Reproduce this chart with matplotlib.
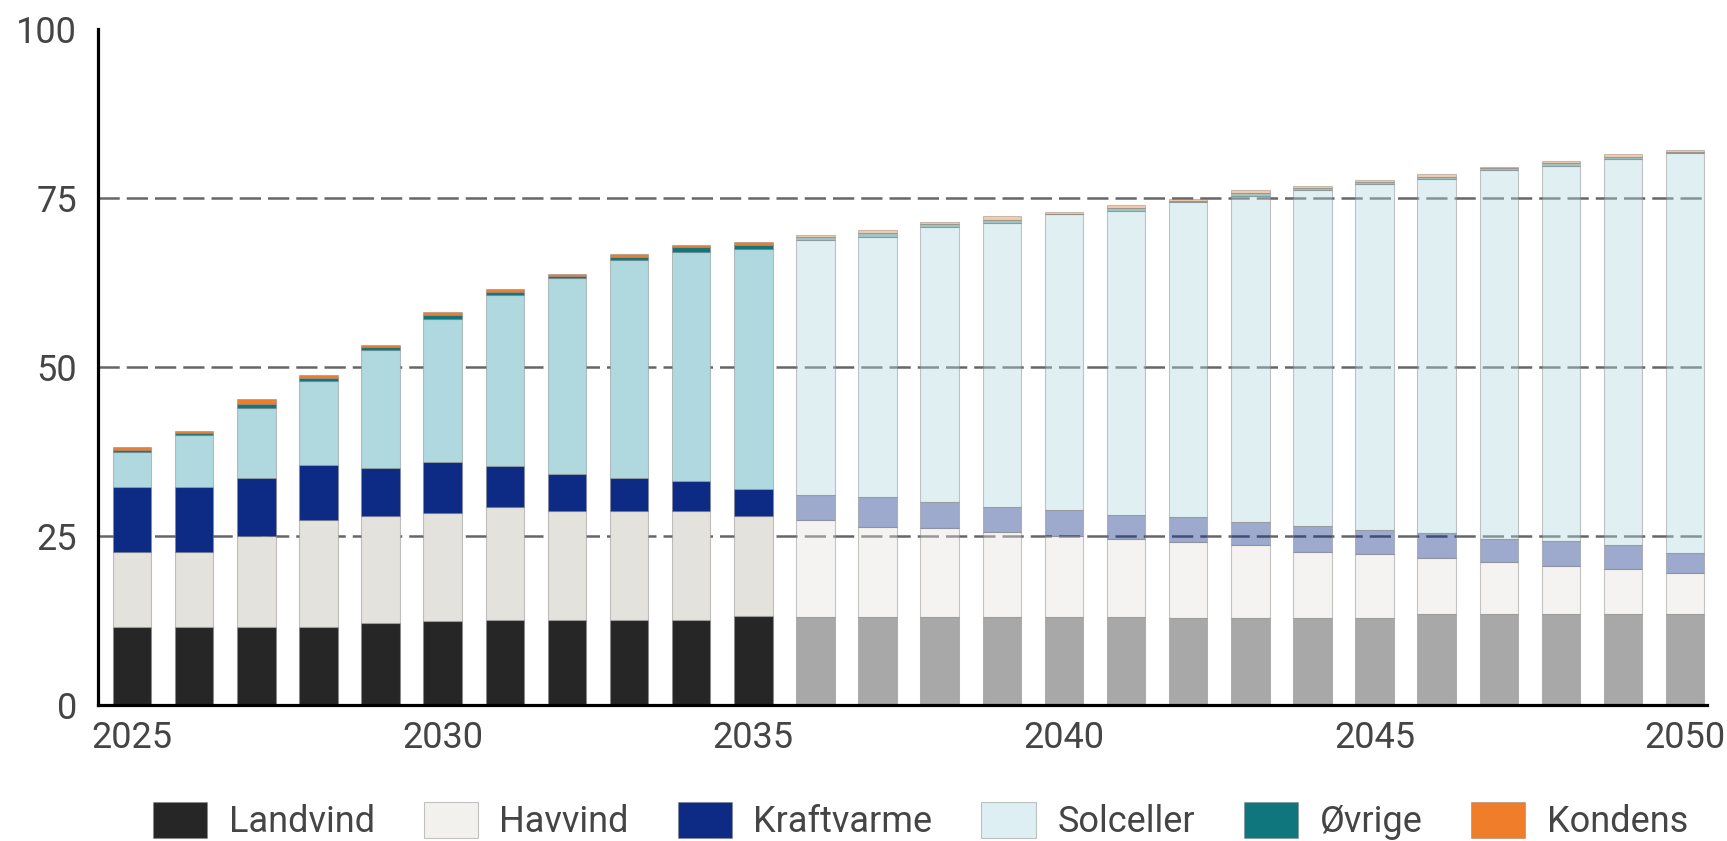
import matplotlib
matplotlib.use("Agg")
import matplotlib.pyplot as plt
from matplotlib.patches import Patch
from matplotlib.colors import to_rgba
import numpy as np

plt.rcParams['font.family'] = ['Roboto', 'DejaVu Sans']

# Elproduktion fordelt på teknologi, 2025-2050
years = list(range(2025, 2051))
landvind   = [11.6, 11.6, 11.6, 11.6, 12.1, 12.5, 12.6, 12.6, 12.6, 12.6, 13.1, 13.0, 13.0,
              13.0, 13.0, 13.0, 13.0, 12.9, 12.9, 12.9, 12.9, 13.5, 13.5, 13.5, 13.5, 13.5]
havvind    = [11.0, 11.0, 13.4, 15.7, 15.9, 15.9, 16.7, 16.1, 16.1, 16.1, 14.9, 14.3, 13.3,
              13.2, 12.6, 12.0, 11.5, 11.2, 10.7, 9.7, 9.4, 8.2, 7.6, 7.1, 6.6, 6.0]
kraftvarme = [9.7, 9.7, 8.6, 8.2, 7.1, 7.6, 6.1, 5.4, 4.9, 4.5, 3.9, 3.8, 4.4,
              3.9, 3.7, 3.8, 3.6, 3.7, 3.4, 3.9, 3.6, 3.7, 3.4, 3.6, 3.6, 3.0]
solceller  = [5.1, 7.6, 10.4, 12.4, 17.4, 21.1, 25.3, 29.0, 32.3, 33.8, 35.5, 37.7, 38.6,
              40.6, 42.0, 43.8, 45.0, 46.6, 48.3, 49.7, 51.1, 52.4, 54.7, 55.6, 57.0, 59.2]
ovrige     = [0.3, 0.3, 0.5, 0.5, 0.4, 0.6, 0.4, 0.3, 0.4, 0.7, 0.6, 0.4, 0.5,
              0.4, 0.5, 0.1, 0.4, 0.2, 0.4, 0.3, 0.3, 0.3, 0.2, 0.4, 0.4, 0.1]
kondens    = [0.4, 0.3, 0.7, 0.4, 0.4, 0.4, 0.4, 0.4, 0.4, 0.4, 0.5, 0.4, 0.5,
              0.3, 0.5, 0.2, 0.5, 0.2, 0.5, 0.3, 0.4, 0.5, 0.2, 0.3, 0.4, 0.3]

labels = ['Landvind', 'Havvind', 'Kraftvarme', 'Solceller', 'Øvrige', 'Kondens']
series = [landvind, havvind, kraftvarme, solceller, ovrige, kondens]
colors = ['#262626', '#e4e2dc', '#0d2a85', '#b0d9df', '#10767e', '#f07d2a']
# farver i forklaringen (Havvind og Solceller vises lyse)
legend_colors = ['#262626', '#f2f1ee', '#0d2a85', '#ddeff2', '#10767e', '#f07d2a']

last_year_full = 2035   # årene efter tegnes blegere
faded_alpha = 0.4
edge = (0.5, 0.5, 0.5, 0.45)
text_color = '#454545'
fsize = 26

fig = plt.figure(figsize=(17.27, 8.41), dpi=100)
ax = fig.add_axes([0.0567, 0.1617, 0.9317, 0.8038])

bottom = np.zeros(len(years))
for values, color in zip(series, colors):
    faces = [to_rgba(color, 1.0 if y <= last_year_full else faded_alpha) for y in years]
    ax.bar(years, values, width=0.62, bottom=bottom, color=faces,
           edgecolor=edge, linewidth=0.8, zorder=2)
    bottom += np.array(values)

# akser
ax.set_xlim(2024.45, 2050.35)
ax.set_ylim(0, 100)
ax.set_yticks([0, 25, 50, 75, 100])
ax.set_xticks([2025, 2030, 2035, 2040, 2045, 2050])
ax.tick_params(axis='both', length=0, labelsize=fsize, labelcolor=text_color)
ax.tick_params(axis='y', pad=15)
ax.tick_params(axis='x', pad=11)

for side in ['top', 'right']:
    ax.spines[side].set_visible(False)
for side in ['left', 'bottom']:
    ax.spines[side].set_linewidth(2.3)
    ax.spines[side].set_color('black')

for level in [25, 50, 75]:
    ax.axhline(level, color='#666666', linewidth=1.8, dashes=(8.5, 2.8), zorder=1)

handles = [Patch(facecolor=c, edgecolor=edge, linewidth=0.8) for c in legend_colors]
fig.legend(handles, labels, loc='center', bbox_to_anchor=(0.533, 0.024), ncol=6,
           frameon=False, fontsize=fsize, labelcolor=text_color,
           handlelength=1.5, handleheight=1.15, handletextpad=0.6,
           columnspacing=1.35, borderpad=0)

fig.savefig('out.png', dpi=100)
